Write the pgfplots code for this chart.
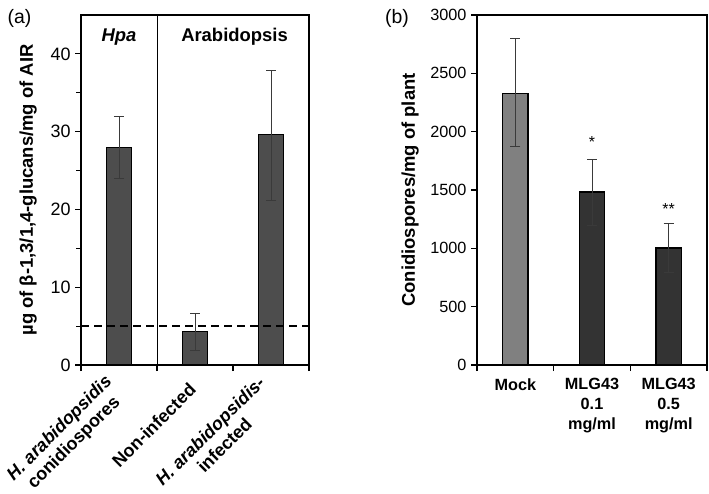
\documentclass[border=0pt]{standalone}
\usepackage{pgfplots}
\pgfplotsset{compat=1.18}
\usepackage{fontspec}
\setmainfont{Liberation Sans}
\definecolor{barA}{HTML}{4D4D4D}
\definecolor{barMock}{HTML}{808080}
\definecolor{barDark}{HTML}{333333}
\definecolor{errc}{HTML}{3A3A3A}
\begin{document}
\begin{tikzpicture}
\path[use as bounding box] (0bp,0bp) rectangle (709bp,494bp);
\pgfplotsset{
  common/.style={
    scale only axis,
    height=350bp,
    xmin=0.5, xmax=3.5,
    ymin=0,
    tick align=outside,
    xtick pos=bottom, ytick pos=left,
    major tick length=6bp,
    minor tick length=5bp,
    axis line style={line width=1.2bp},
    every tick/.style={black, line width=1.2bp},
    xtick={0.5,1.5,2.5,3.5},
    xticklabels={},
    extra x tick style={major tick length=0bp},
    /pgf/number format/assume math mode=true,
    /pgf/number format/1000 sep={},
    scaled y ticks=false,
    bar width=0.33,
  },
  errstyle/.style={
    error bars/.cd, y dir=both, y explicit,
    error bar style={line width=1bp, color=errc},
    error mark options={rotate=90, mark size=5bp, line width=1bp, color=errc},
  },
}
% ---------------- panel (a)
\begin{axis}[common,
  at={(81bp,129bp)}, anchor=south west, width=228bp,
  ymax=45,
  ytick={0,10,20,30,40},
  minor ytick={5,15,25,35},
  yticklabel style={font=\fontsize{18}{21}\selectfont, xshift=-1bp},
  extra x ticks={1,2,3},
  extra x tick labels={{\textit{H. arabidopsidis}\\conidiospores},{Non-infected},{\textit{H. arabidopsidis-}\\infected}},
  xticklabel style={font=\bfseries\fontsize{18}{20.5}\selectfont, align=center, yshift=-19bp, xshift=0bp, rotate=45, anchor=east},
  ylabel={\bfseries µg of β-1,3/1,4-glucans/mg of AIR},
  every axis y label/.style={at={(axis description cs:-0.232,0.5)}, anchor=center, rotate=90, font=\fontsize{18.5}{21}\selectfont},
]
\addplot[ybar, fill=barA, draw=black, line width=1.2bp, errstyle] coordinates {
  (1,28.0) += (0,4.0) -= (0,4.0)
  (2,4.3) += (0,2.3) -= (0,2.4)
  (3,29.6) += (0,8.3) -= (0,8.4)
};
\addplot[black, line width=1.3bp, dash pattern=on 8bp off 5bp] coordinates {(0.5,5) (3.5,5)};
\draw[line width=1bp] (axis cs:1.5,0) -- (axis cs:1.5,45);
\node[font=\bfseries\itshape\fontsize{18.5}{21}\selectfont] at (axis cs:1,42.2) {Hpa};
\node[font=\bfseries\fontsize{18.5}{21}\selectfont] at (axis cs:2.52,42.2) {Arabidopsis};
\end{axis}
\node[font=\fontsize{19.5}{22}\selectfont] at (19.5bp,476bp) {(a)};
% ---------------- panel (b)
\begin{axis}[common,
  at={(477bp,129bp)}, anchor=south west, width=230bp,
  ymax=3000,
  ytick={0,500,...,3000},
  yticklabel style={font=\fontsize{16.3}{19}\selectfont, xshift=-1bp},
  extra x ticks={1,2,3},
  extra x tick labels={Mock,{MLG43\\0.1\\mg/ml},{MLG43\\0.5\\mg/ml}},
  xticklabel style={font=\bfseries\fontsize{16.3}{20}\selectfont, align=center, anchor=north, yshift=-10bp},
  ylabel={\bfseries Conidiospores/mg of plant},
  every axis y label/.style={at={(axis description cs:-0.291,0.5)}, anchor=center, rotate=90, font=\fontsize{18.5}{21}\selectfont},
]
\addplot[ybar, fill=barMock, draw=black, line width=1.2bp, errstyle] coordinates {
  (1,2330) += (0,465) -= (0,460)
};
\addplot[ybar, fill=barDark, draw=black, line width=1.2bp, errstyle] coordinates {
  (2,1483) += (0,280) -= (0,286)
  (3,1003) += (0,211) -= (0,212)
};
\node[font=\fontsize{16}{19}\selectfont] at (axis cs:2,1910) {*};
\node[font=\fontsize{16}{19}\selectfont] at (axis cs:3,1335) {**};
\end{axis}
\node[font=\fontsize{19.5}{22}\selectfont] at (397bp,476bp) {(b)};
\end{tikzpicture}
\end{document}
